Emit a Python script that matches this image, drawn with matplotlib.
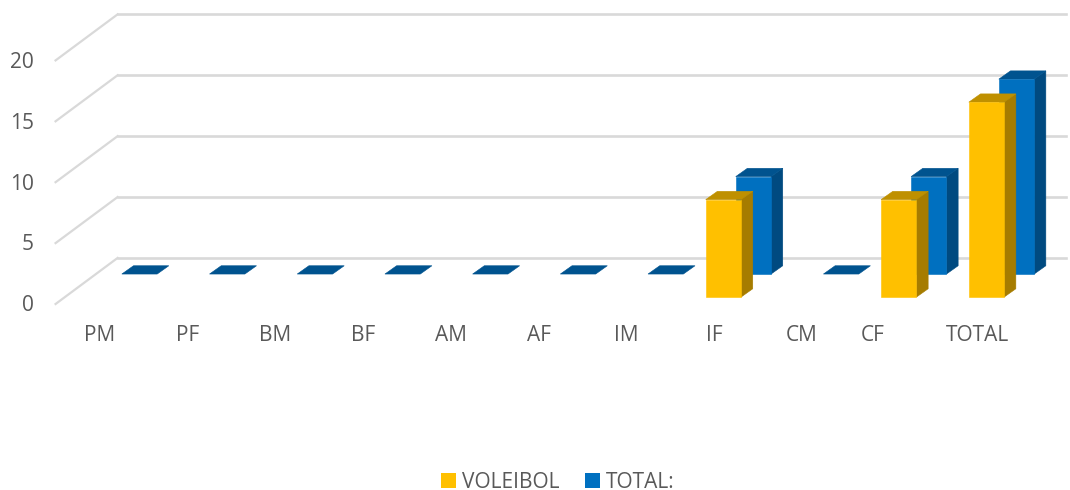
import matplotlib
matplotlib.use('Agg')
import matplotlib.pyplot as plt
from matplotlib.patches import Polygon, Patch

plt.rcParams['font.family'] = ['Open Sans', 'DejaVu Sans']

categories = ['PM', 'PF', 'BM', 'BF', 'AM', 'AF', 'IM', 'IF', 'CM', 'CF', 'TOTAL']
voleibol = [0, 0, 0, 0, 0, 0, 0, 8, 0, 8, 16]
total = [0, 0, 0, 0, 0, 0, 0, 8, 0, 8, 16]
y_ticks = [0, 5, 10, 15, 20]
label_shift = [-0.45, -0.45, -0.45, -0.45, -0.45, -0.45, -0.45, -0.45, -0.45, -0.64, -0.44]

TEXT = '#595959'
GRID = '#d9d9d9'
YELLOW = ('#ffc000', '#bf9000', '#a67c00')  # front, top, side
BLUE = ('#0070c0', '#00538f', '#004a80')

# category spacing is 87.7 px, a value unit is 12.18 px
fig = plt.figure(figsize=(10.7, 4.9), dpi=100)
ax = fig.add_axes([0, 0, 1, 1])
ax.set_xlim(-139.5 / 87.7, (1070 - 139.5) / 87.7)
ax.set_ylim((304 - 490) / 12.18, 304 / 12.18)
ax.axis('off')

bar_w = 0.403
dep_x, dep_y = 0.133, 0.68
wall_x, wall_y = 0.707, 3.78
left_x = -0.957
right_x = 10.57


def draw_bar(x, base, value, colors):
    front, top, side = colors
    l, r = x - bar_w / 2, x + bar_w / 2
    h = base + value
    # thin edge in the face colour closes the seams between the faces
    if value > 0:
        ax.add_patch(Polygon([(r, base), (r + dep_x, base + dep_y), (r + dep_x, h + dep_y), (r, h)], fc=side, ec=side, lw=0.4, zorder=3))
    ax.add_patch(Polygon([(l, h), (r, h), (r + dep_x, h + dep_y), (l + dep_x, h + dep_y)], fc=top, ec=top, lw=0.4, zorder=3))
    if value > 0:
        ax.add_patch(Polygon([(l, base), (r, base), (r, h), (l, h)], fc=front, ec=front, lw=0.4, zorder=3))


# walls
for t in y_ticks:
    ax.plot([left_x, left_x + wall_x], [t, t + wall_y], color=GRID, lw=1.6, zorder=1)
    ax.plot([left_x + wall_x, right_x], [t + wall_y, t + wall_y], color=GRID, lw=1.9, zorder=1)
    ax.text(-1.203, t - 0.15, str(t), ha='right', va='center', fontsize=15, color=TEXT)

for i, cat in enumerate(categories):
    draw_bar(i, 2.46, total[i], BLUE)
    if voleibol[i] > 0:
        # the front row sits lower and in front of the blue one
        draw_bar(i - 0.342, 0.57, voleibol[i], YELLOW)
    ax.text(i + label_shift[i], -2.6, cat, ha='center', va='center', fontsize=15, color=TEXT)

handles = [Patch(fc=YELLOW[0], ec='none', label='VOLEIBOL'), Patch(fc=BLUE[0], ec='none', label='TOTAL:')]
ax.legend(handles=handles, ncol=2, loc='center', bbox_to_anchor=(558 / 1070, 1 - 482 / 490), frameon=False,
          fontsize=15, labelcolor=TEXT, handlelength=0.7, handleheight=0.7, handletextpad=0.3, columnspacing=1.25,
          borderpad=0, borderaxespad=0)

fig.savefig('out.png', dpi=100)
